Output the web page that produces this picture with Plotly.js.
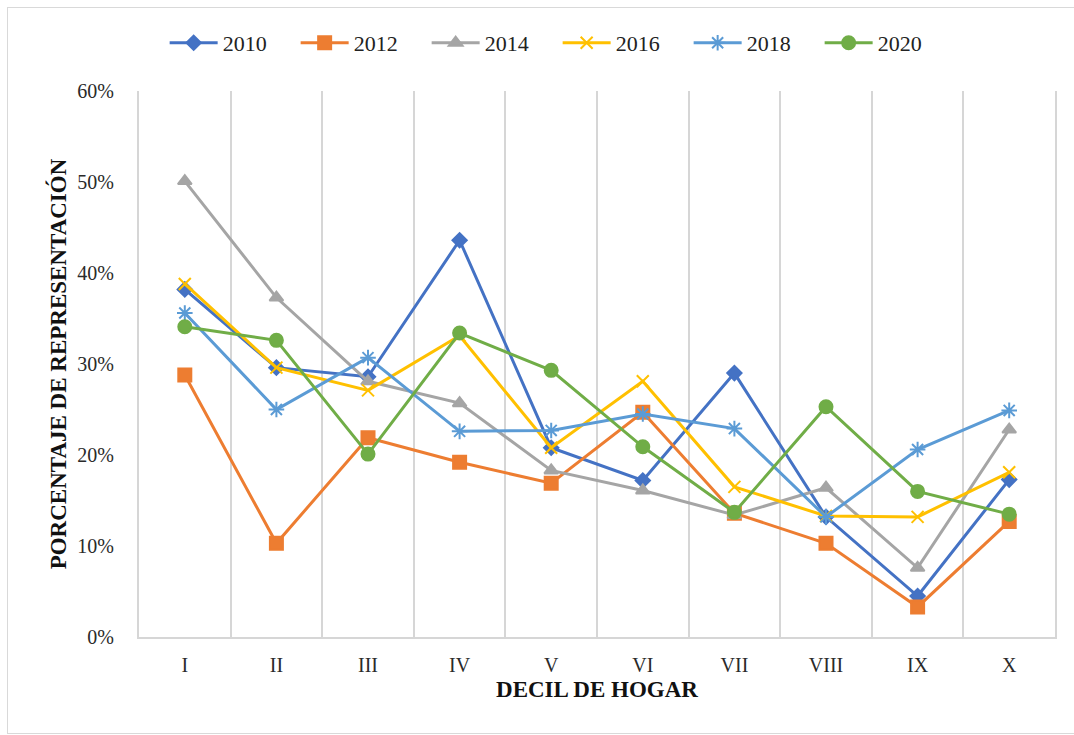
<!DOCTYPE html>
<html>
<head>
<meta charset="utf-8">
<script src="https://cdn.plot.ly/plotly-3.0.1.min.js"></script>
<style>
html,body{margin:0;padding:0;background:#fff;overflow:hidden;}
#chart{width:1074px;height:735px;position:absolute;left:0;top:0;}
#frame{position:absolute;left:7px;top:7px;width:1090px;height:725px;border:1px solid #d9d9d9;pointer-events:none;}
</style>
</head>
<body>
<div id="chart"></div>
<div id="frame"></div>
<script>
const deciles = ["I","II","III","IV","V","VI","VII","VIII","IX","X"];
const years = ["2010","2012","2014","2016","2018","2020"];
const v2010 = [0.382,0.296,0.286,0.436,0.208,0.172,0.290,0.132,0.045,0.173];
const v2012 = [0.288,0.103,0.219,0.192,0.169,0.247,0.136,0.103,0.033,0.127];
const v2014 = [0.501,0.373,0.281,0.257,0.183,0.161,0.134,0.164,0.076,0.228];
const v2016 = [0.388,0.296,0.271,0.331,0.208,0.281,0.165,0.133,0.132,0.181];
const v2018 = [0.356,0.250,0.307,0.226,0.227,0.245,0.229,0.132,0.206,0.249];
const v2020 = [0.341,0.326,0.201,0.334,0.293,0.209,0.137,0.253,0.160,0.135];

const seriesVals = [v2010,v2012,v2014,v2016,v2018,v2020];
const colors = ["#4472C4","#ED7D31","#A5A5A5","#FFC000","#5B9BD5","#70AD47"];
const symbols = ["diamond","square","triangle-up","x-thin-open","asterisk-open","circle"];
const sizes = [11,13,12,12,13,13];

const traces = years.map((y,i)=>({
  type:"scatter", mode:"lines+markers", name:y,
  x:deciles, y:seriesVals[i],
  line:{color:colors[i], width:3},
  marker:{symbol:symbols[i], size:sizes[i], color:colors[i], line:{color:colors[i], width:2}}
}));

const layout = {
  width:1074, height:735,
  margin:{l:139, r:19, t:91, b:98},
  paper_bgcolor:"#fff", plot_bgcolor:"#fff",
  font:{family:"Liberation Serif", color:"#333"},
  showlegend:true,
  legend:{orientation:"h", x:0.028, xanchor:"left", y:1.088, yanchor:"middle",
          font:{family:"Liberation Serif", size:22, color:"#222"},
          itemwidth:48, entrywidth:68, entrywidthmode:"pixels", traceorder:"normal"},
  xaxis:{type:"category", range:[-0.5, deciles.length-0.5], tickson:"boundaries", showgrid:true, gridcolor:"#d6d6d6", gridwidth:2,
         showline:true, linecolor:"#d6d6d6", linewidth:2, ticks:"", automargin:false,
         ticklabelstandoff:9,
         tickfont:{family:"Liberation Serif", size:20, color:"#2a2a2a"},
         title:{text:"<b>DECIL DE HOGAR</b>", font:{family:"Liberation Serif", size:23, color:"#111"}, standoff:6},
         fixedrange:true},
  yaxis:{range:[0,0.6], dtick:0.1, tickformat:".0%", showgrid:false, zeroline:false,
         showline:true, mirror:true, linecolor:"#d6d6d6", linewidth:2,
         ticks:"", automargin:false, ticklabelstandoff:19,
         tickfont:{family:"Liberation Serif", size:20, color:"#2a2a2a"},
         title:{text:"<b>PORCENTAJE DE REPRESENTACIÓN</b>", font:{family:"Liberation Serif", size:23, color:"#111"}, standoff:4},
         fixedrange:true}
};

Plotly.newPlot("chart", traces, layout, {displayModeBar:false, staticPlot:true});
</script>
</body>
</html>
